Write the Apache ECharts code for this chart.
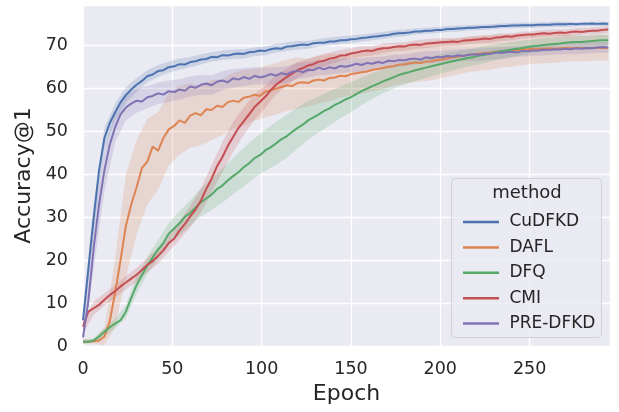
<!DOCTYPE html>
<html>
<head>
<meta charset="utf-8">
<script src="https://cdn.jsdelivr.net/npm/echarts@6/dist/echarts.min.js"></script>
<style>
  html, body { margin: 0; padding: 0; background: #ffffff; }
  #chart { width: 619px; height: 412px; }
</style>
</head>
<body>
<div id="chart"></div>
<script>
// epochs of the curve samples (every 3rd epoch) and of the band samples (every 6th)
var epochs = [];
for (var e = 0; e <= 294; e += 3) epochs.push(e);
var bandEpochs = [];
for (var b = 0; b <= 294; b += 6) bandEpochs.push(b);

var methods = ['CuDFKD', 'DAFL', 'DFQ', 'CMI', 'PRE-DFKD'];
var colors = ['#4C72B0', '#DD8452', '#55A868', '#C44E52', '#8172B3'];

var xTicks = [0, 50, 100, 150, 200, 250];
var yTicks = [0, 10, 20, 30, 40, 50, 60, 70];

// mean Accuracy@1 per epoch
var cudfkd = [
  6, 18, 30, 41, 48.5, 52, 54.5, 56.8, 58.5, 59.8,
  60.9, 61.8, 62.9, 63.3, 64.1, 64.3, 65.0, 65.2, 65.7, 65.6,
  66.2, 66.4, 66.8, 66.9, 67.4, 67.3, 67.8, 67.7, 68.0, 68.2,
  68.1, 68.5, 68.6, 68.9, 68.8, 69.2, 69.4, 69.3, 69.8, 69.9,
  70.1, 70.3, 70.2, 70.6, 70.7, 70.7, 71.0, 71.0, 71.3, 71.3,
  71.5, 71.6, 71.8, 71.9, 72.1, 72.2, 72.4, 72.5, 72.8, 72.9,
  73.0, 73.1, 73.3, 73.3, 73.5, 73.5, 73.7, 73.7, 73.9, 73.9,
  74.0, 74.1, 74.2, 74.2, 74.3, 74.4, 74.4, 74.5, 74.6, 74.6,
  74.7, 74.7, 74.8, 74.8, 74.8, 74.9, 74.9, 74.9, 75.0, 75.0,
  75.0, 75.1, 75.0, 75.1, 75.1, 75.2, 75.1, 75.2, 75.1
];
var dafl = [
  1.0, 1.0, 1.1, 1.3, 2.2, 5.8, 12.5, 20, 28, 33,
  37, 41.5, 43, 46.5, 45.5, 48.5, 50.5, 51.3, 52.6, 52.0,
  53.7, 54.3, 53.8, 55.2, 55.0, 56.0, 55.7, 56.8, 57.2, 56.9,
  57.9, 58.1, 58.6, 58.3, 59.3, 59.6, 60.0, 60.4, 60.8, 60.6,
  61.3, 61.5, 61.3, 61.9, 62.1, 61.9, 62.5, 62.6, 63.0, 62.9,
  63.4, 63.6, 63.8, 64.0, 64.4, 64.6, 64.8, 65.1, 65.3, 65.6,
  65.7, 65.9, 66.1, 66.0, 66.3, 66.4, 66.7, 66.8, 67.1, 67.3,
  67.5, 67.7, 67.9, 68.0, 68.2, 68.3, 68.4, 68.6, 68.7, 68.8,
  68.9, 69.0, 69.1, 69.2, 69.3, 69.3, 69.3, 69.4, 69.3, 69.4,
  69.5, 69.4, 69.5, 69.5, 69.4, 69.5, 69.6, 69.5, 69.5
];
var dfq = [
  1.0, 1.0, 1.3, 2.2, 3.3, 4.4, 5.2, 6.0, 8.0, 11.2,
  14.2, 16.5, 18.8, 20.6, 22.5, 24.0, 26.2, 27.4, 28.6, 30.1,
  31.0, 32.3, 33.5, 34.4, 35.3, 36.6, 37.4, 38.6, 39.6, 40.5,
  41.7, 42.6, 43.8, 44.5, 45.6, 46.3, 47.2, 48.2, 48.9, 49.9,
  50.8, 51.6, 52.6, 53.3, 54.0, 54.8, 55.4, 56.2, 56.8, 57.5,
  58.0, 58.7, 59.4, 60.0, 60.6, 61.1, 61.7, 62.2, 62.7, 63.2,
  63.6, 63.9, 64.3, 64.6, 64.9, 65.2, 65.5, 65.8, 66.1, 66.4,
  66.7, 66.9, 67.2, 67.4, 67.7, 67.9, 68.2, 68.5, 68.7, 68.9,
  69.1, 69.3, 69.5, 69.7, 69.9, 70.0, 70.2, 70.3, 70.4, 70.5,
  70.7, 70.8, 70.9, 70.9, 71.0, 71.1, 71.2, 71.3, 71.3
];
var cmi = [
  4.5, 8.0, 8.8, 9.6, 10.8, 11.9, 12.8, 13.9, 14.8, 15.7,
  16.6, 17.7, 18.9, 19.8, 21.0, 22.3, 24.0, 25.0, 26.9, 28.4,
  30.2, 31.8, 33.9, 36.6, 39.0, 41.9, 44.0, 46.6, 48.7, 50.8,
  52.4, 54.0, 55.7, 56.9, 58.1, 59.6, 60.9, 61.8, 62.7, 63.5,
  64.3, 64.8, 65.4, 65.7, 66.3, 66.5, 67.0, 67.2, 67.7, 67.8,
  68.2, 68.4, 68.7, 68.9, 68.8, 69.2, 69.4, 69.5, 69.7, 69.9,
  69.8, 70.2, 70.3, 70.2, 70.5, 70.6, 70.7, 70.8, 70.9, 71.0,
  70.9, 71.2, 71.3, 71.4, 71.5, 71.7, 71.6, 71.9, 72.0, 72.2,
  72.1, 72.4, 72.5, 72.6, 72.6, 72.8, 72.9, 72.8, 73.0, 73.1,
  73.0, 73.2, 73.3, 73.2, 73.4, 73.5, 73.5, 73.7, 73.8
];
var preDfkd = [
  2, 10.5, 23, 33, 41, 47, 51, 54, 55.6, 56.5,
  57.2, 57.0, 58.0, 58.3, 58.9, 58.6, 59.4, 59.2, 59.8, 59.5,
  60.5, 60.2, 60.9, 61.2, 60.8, 61.6, 61.9, 61.5, 62.4, 62.1,
  62.7, 62.3, 63.0, 62.6, 62.9, 63.4, 63.0, 63.6, 63.3, 63.9,
  64.2, 63.8, 64.4, 64.3, 64.9, 64.5, 65.0, 64.7, 65.3, 65.1,
  65.4, 65.8, 65.5, 66.0, 65.8, 66.2, 66.0, 66.5, 66.4, 66.7,
  66.6, 66.9, 67.0, 66.8, 67.3, 67.1, 67.4, 67.3, 67.6, 67.5,
  67.8, 67.6, 67.9, 68.0, 67.9, 68.2, 68.1, 68.4, 68.3, 68.5,
  68.6, 68.4, 68.8, 68.7, 68.9, 68.9, 69.1, 69.0, 69.2, 69.1,
  69.3, 69.2, 69.4, 69.3, 69.5, 69.4, 69.6, 69.7, 69.6
];

// half width of the shaded band, every 6th epoch
var cudfkdSpread = [
  2, 3, 2.5, 2, 1.8, 1.6, 1.4, 1.4, 1.3, 1.3,
  1.2, 1.2, 1.1, 1.1, 1.1, 1.1, 1.0, 1.0, 1.0, 1.0,
  1.0, 0.9, 0.9, 0.9, 0.9, 0.9, 0.8, 0.8, 0.8, 0.8,
  0.8, 0.7, 0.7, 0.7, 0.7, 0.7, 0.6, 0.6, 0.6, 0.6,
  0.6, 0.6, 0.6, 0.6, 0.6, 0.6, 0.5, 0.5, 0.5, 0.5
];
var daflSpread = [
  0.5, 0.5, 2, 8, 12, 11, 10, 9, 8.5, 8,
  7.5, 7, 7, 6.5, 6.5, 6.5, 6, 6, 6, 6,
  6, 5.5, 5.5, 5.5, 5, 5, 5, 5, 5, 4.5,
  4.5, 4.5, 4.5, 4.5, 4.3, 4.2, 4, 4, 4, 3.8,
  3.8, 3.6, 3.5, 3.4, 3.3, 3.2, 3.1, 3, 3, 3
];
var dfqSpread = [
  0.5, 0.5, 1, 1.2, 1.5, 2, 2, 2.2, 2.5, 2.8,
  3, 3.3, 3.6, 4, 4.2, 4.5, 4.6, 4.8, 5, 5,
  4.8, 4.5, 4.2, 4, 3.7, 3.5, 3.2, 3, 2.8, 2.7,
  2.6, 2.5, 2.4, 2.3, 2.2, 2.1, 2, 2, 1.9, 1.8,
  1.8, 1.7, 1.6, 1.6, 1.5, 1.5, 1.4, 1.4, 1.3, 1.3
];
var cmiSpread = [
  1.5, 1.5, 1.5, 1.5, 1.6, 1.6, 1.7, 1.8, 2, 2.2,
  2.5, 2.8, 3.2, 3.5, 3.5, 3.2, 3, 2.6, 2.2, 2,
  1.8, 1.6, 1.5, 1.4, 1.3, 1.2, 1.2, 1.1, 1.1, 1,
  1, 1, 1, 1, 0.9, 0.9, 0.9, 0.9, 0.9, 0.9,
  0.8, 0.8, 0.8, 0.8, 0.8, 0.8, 0.8, 0.8, 0.8, 0.8
];
var preDfkdSpread = [
  2, 5, 5, 3.5, 3, 2.8, 2.6, 2.5, 2.5, 2.4,
  2.4, 2.3, 2.3, 2.2, 2.2, 2.1, 2, 2, 2, 1.9,
  1.9, 1.8, 1.8, 1.7, 1.7, 1.6, 1.6, 1.5, 1.5, 1.5,
  1.4, 1.4, 1.4, 1.4, 1.4, 1.4, 1.4, 1.4, 1.4, 1.4,
  1.3, 1.3, 1.3, 1.3, 1.3, 1.3, 1.3, 1.3, 1.3, 1.3
];

var means = [cudfkd, dafl, dfq, cmi, preDfkd];
var spreads = [cudfkdSpread, daflSpread, dfqSpread, cmiSpread, preDfkdSpread];

var textColor = '#262626';
var font = 'DejaVu Sans';

function hexAlpha(hex, a) {
  var r = parseInt(hex.slice(1, 3), 16), g = parseInt(hex.slice(3, 5), 16), bb = parseInt(hex.slice(5, 7), 16);
  return 'rgba(' + r + ',' + g + ',' + bb + ',' + a + ')';
}

// band polygon: upper edge left to right, then lower edge back
function bandSeries(k) {
  var mean = means[k], spread = spreads[k];
  return {
    name: methods[k] + ' band',
    type: 'custom',
    coordinateSystem: 'cartesian2d',
    data: [[0, 0]],
    z: 1,
    silent: true,
    renderItem: function (params, api) {
      var pts = [];
      for (var i = 0; i < bandEpochs.length; i++) {
        pts.push(api.coord([bandEpochs[i], mean[i * 2] + spread[i]]));
      }
      for (var j = bandEpochs.length - 1; j >= 0; j--) {
        pts.push(api.coord([bandEpochs[j], mean[j * 2] - spread[j]]));
      }
      return {
        type: 'polygon',
        shape: { points: pts },
        style: { fill: hexAlpha(colors[k], 0.2), stroke: null }
      };
    }
  };
}

function lineSeries(k) {
  return {
    name: methods[k],
    type: 'line',
    data: epochs.map(function (ep, i) { return [ep, means[k][i]]; }),
    symbol: 'none',
    z: 3,
    lineStyle: { color: colors[k], width: 2 },
    itemStyle: { color: colors[k] }
  };
}

var series = [];
for (var k = 0; k < methods.length; k++) series.push(bandSeries(k));
for (var k2 = 0; k2 < methods.length; k2++) series.push(lineSeries(k2));

var chart = echarts.init(document.getElementById('chart'), null, { renderer: 'canvas' });

var option = {
  animation: false,
  backgroundColor: '#ffffff',
  grid: {
    left: 83, right: 9, top: 5, bottom: 66,
    show: true, backgroundColor: '#EAEAF2', borderWidth: 0
  },
  xAxis: {
    type: 'value',
    min: 0, max: 295, interval: 50,
    name: 'Epoch', nameLocation: 'middle', nameGap: 37,
    nameTextStyle: { fontFamily: font, fontSize: 22, color: textColor },
    axisLine: { show: false }, axisTick: { show: false },
    axisLabel: {
      fontFamily: font, fontSize: 17.5, color: textColor, margin: 14,
      showMaxLabel: false,
      formatter: function (v) { return xTicks.indexOf(v) >= 0 ? String(v) : ''; }
    },
    splitLine: { lineStyle: { color: '#ffffff', width: 1.3 } }
  },
  yAxis: {
    type: 'value',
    min: 0, max: 79.5, interval: 10,
    name: 'Accuracy@1', nameLocation: 'middle', nameGap: 39,
    nameTextStyle: { fontFamily: font, fontSize: 22, color: textColor },
    axisLine: { show: false }, axisTick: { show: false },
    axisLabel: {
      fontFamily: font, fontSize: 17.5, color: textColor, margin: 15,
      showMaxLabel: false,
      formatter: function (v) { return yTicks.indexOf(v) >= 0 ? String(v) : ''; }
    },
    splitLine: { lineStyle: { color: '#ffffff', width: 1.3 } }
  },
  legend: {
    data: methods,
    orient: 'vertical',
    left: 458, top: 207,
    icon: 'rect',
    itemWidth: 36, itemHeight: 2.5, itemGap: 5.4,
    z: 10,
    formatter: function (name) { return ' ' + name; },
    textStyle: { fontFamily: font, fontSize: 17, color: textColor, lineHeight: 20 }
  },
  graphic: [
    {
      type: 'rect', z: 8,
      shape: { x: 451.5, y: 178.5, width: 150, height: 159, r: 4 },
      style: { fill: 'rgba(234,234,242,0.8)', stroke: '#D0D0D6', lineWidth: 1 }
    },
    {
      type: 'text', z: 9,
      style: { text: 'method', x: 527, y: 193, textAlign: 'center', textVerticalAlign: 'middle',
               fontFamily: font, fontSize: 18, fill: textColor }
    }
  ],
  series: series
};

chart.setOption(option);
</script>
</body>
</html>
